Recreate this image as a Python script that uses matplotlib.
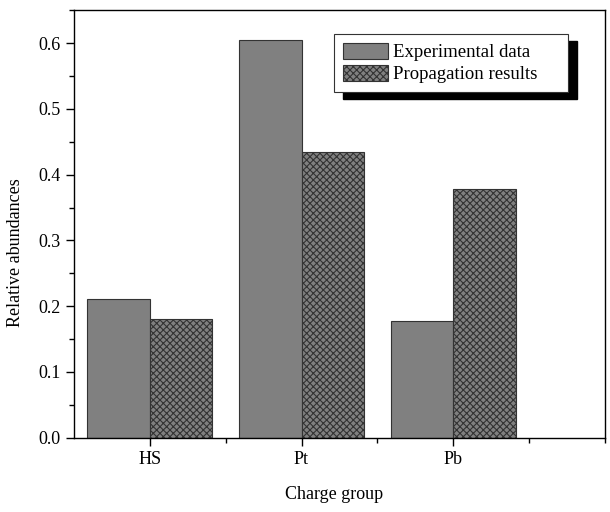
import numpy as np
import matplotlib.pyplot as plt
from matplotlib.patches import Rectangle
from matplotlib.ticker import MultipleLocator

groups = ['HS', 'Pt', 'Pb']
experimental = [0.211, 0.605, 0.178]
propagation = [0.181, 0.435, 0.378]

plt.rcParams['font.family'] = ['Liberation Serif', 'DejaVu Serif']
plt.rcParams['hatch.color'] = '#333333'
plt.rcParams['hatch.linewidth'] = 0.8

fig = plt.figure(figsize=(6.1, 5.12), dpi=100)
ax = fig.add_axes([0.121, 0.145, 0.871, 0.835])

x = np.arange(1, len(groups) + 1)
w = 0.41
ax.bar(x - w / 2, experimental, w, color='#808080', edgecolor='#333333',
       linewidth=0.8, label='Experimental data')
ax.bar(x + w / 2, propagation, w, color='#808080', edgecolor='#333333',
       linewidth=0.8, hatch='xxxxx', label='Propagation results')

ax.set_xlim(0.5, 4.0)
ax.set_ylim(0, 0.65)
ax.set_xticks(x)
ax.set_xticklabels(groups)
ax.set_xticks([1.5, 2.5, 3.5, 4.0], minor=True)
ax.yaxis.set_major_locator(MultipleLocator(0.1))
ax.yaxis.set_minor_locator(MultipleLocator(0.05))
ax.yaxis.set_major_formatter(plt.FormatStrFormatter('%.1f'))
ax.tick_params(which='major', direction='out', length=6, width=1, labelsize=13)
ax.tick_params(which='minor', direction='out', length=3.5, width=1)
for s in ax.spines.values():
    s.set_linewidth(1)

ax.set_xlabel('Charge group', fontsize=13)
ax.set_ylabel('Relative abundances', fontsize=13)
ax.xaxis.set_label_coords(0.49, -0.112)
ax.yaxis.set_label_coords(-0.093, 0.432)

leg = ax.legend(loc='upper left', bbox_to_anchor=(0.49, 0.944), fontsize=13.5,
                frameon=False, handlelength=2.4, handleheight=0.95,
                borderpad=0.45, labelspacing=0.2, handletextpad=0.3,
                borderaxespad=0)
leg.set_zorder(6)

# white box with a black drop shadow behind the legend, a bit wider on the right
fig.canvas.draw()
bb = leg.get_window_extent().transformed(fig.transFigure.inverted())
extra = 22 / 610
dx, dy = 9 / 610, -7 / 512
shadow = Rectangle((bb.x0 + dx, bb.y0 + dy), bb.width + extra, bb.height,
                   transform=fig.transFigure, color='black', zorder=4,
                   clip_on=False)
box = Rectangle((bb.x0, bb.y0), bb.width + extra, bb.height,
                transform=fig.transFigure, facecolor='white', edgecolor='#333333',
                linewidth=0.8, zorder=5, clip_on=False)
ax.add_artist(shadow)
ax.add_artist(box)

fig.savefig('out.png', dpi=100)
